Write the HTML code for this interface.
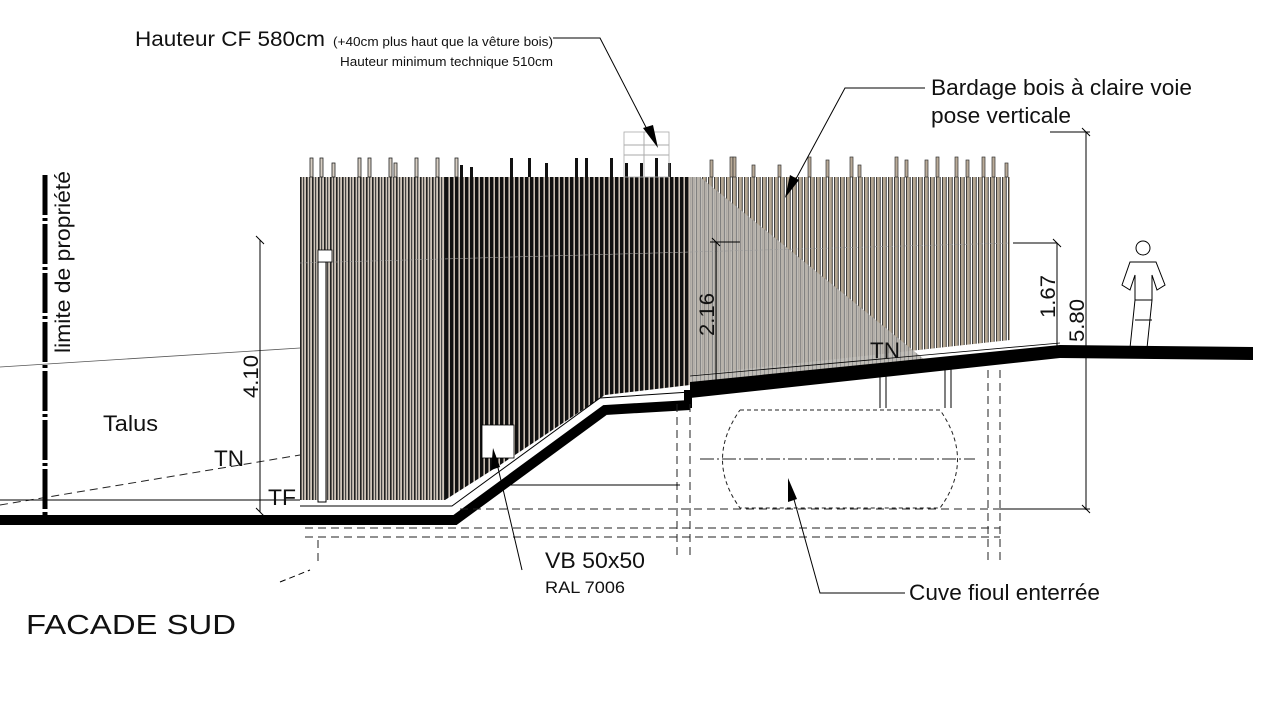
<!DOCTYPE html>
<html><head><meta charset="utf-8"><style>
html,body{margin:0;padding:0;background:#fff;width:1277px;height:701px;overflow:hidden}
svg{display:block}
text{font-family:"Liberation Sans",Arial,sans-serif;fill:#111}
</style></head><body>
<svg width="1277" height="701" viewBox="0 0 1277 701" xmlns="http://www.w3.org/2000/svg">
<defs>
<pattern id="pl" width="6" height="10" patternUnits="userSpaceOnUse">
<rect width="6" height="10" fill="#cfc5b9"/><rect x="0" width="1.6" height="10" fill="#222"/><rect x="3" width="1.2" height="10" fill="#444"/>
</pattern>
<pattern id="pd" width="5" height="10" patternUnits="userSpaceOnUse">
<rect width="5" height="10" fill="#c9beb2"/><rect x="0" width="3.4" height="10" fill="#111"/>
</pattern>
<pattern id="pr" width="6" height="10" patternUnits="userSpaceOnUse">
<rect width="6" height="10" fill="#fff"/><rect x="0" width="4.4" height="10" fill="#b5a792"/><rect x="0" width="0.9" height="10" fill="#333"/><rect x="3.8" width="0.9" height="10" fill="#333"/>
</pattern>
<pattern id="pg" width="4" height="4" patternUnits="userSpaceOnUse">
<rect width="4" height="4" fill="#b8b4ae"/><rect width="1" height="4" fill="#888"/>
</pattern>
</defs>

<!-- left cladding -->
<polygon points="300,177 445,177 445,500 300,500" fill="url(#pl)"/>
<polygon points="445,177 690,177 690,385 605,395 500,465 445,500" fill="url(#pd)"/>
<g fill="#d8cfc4" stroke="#222" stroke-width="0.8">
<rect x="310" y="158" width="3" height="19"/><rect x="320" y="158" width="3" height="19"/><rect x="332" y="163" width="3" height="14"/><rect x="358" y="158" width="3" height="19"/><rect x="368" y="158" width="3" height="19"/><rect x="389" y="158" width="3" height="19"/><rect x="394" y="163" width="3" height="14"/><rect x="415" y="158" width="3" height="19"/><rect x="436" y="158" width="3" height="19"/><rect x="455" y="158" width="3" height="19"/>
</g>
<g fill="#111">
<rect x="460" y="165" width="3" height="12"/><rect x="470" y="167" width="3" height="10"/><rect x="510" y="158" width="3" height="19"/><rect x="528" y="158" width="3" height="19"/><rect x="545" y="163" width="3" height="14"/><rect x="575" y="158" width="3" height="19"/><rect x="585" y="158" width="3" height="19"/><rect x="610" y="158" width="3" height="19"/><rect x="625" y="163" width="3" height="14"/><rect x="640" y="163" width="3" height="14"/><rect x="655" y="158" width="3" height="19"/><rect x="668" y="163" width="3" height="14"/>
</g>
<rect x="624" y="132" width="20" height="45" fill="none" stroke="#aaa" stroke-width="0.8"/>
<rect x="644" y="132" width="25" height="45" fill="none" stroke="#aaa" stroke-width="0.8"/>
<line x1="624" y1="145" x2="669" y2="145" stroke="#aaa"/><line x1="624" y1="155" x2="669" y2="155" stroke="#aaa"/>

<!-- right fence -->
<polygon points="690,177 1010,177 1010,340 690,375" fill="url(#pr)"/>
<g fill="#b9ab98" stroke="#333" stroke-width="0.7">
<rect x="710" y="160" width="3" height="17"/><rect x="730" y="157" width="3" height="20"/><rect x="733" y="157" width="3" height="20"/><rect x="752" y="165" width="3" height="12"/><rect x="778" y="165" width="3" height="12"/><rect x="808" y="157" width="3" height="20"/><rect x="826" y="160" width="3" height="17"/><rect x="850" y="157" width="3" height="20"/><rect x="858" y="165" width="3" height="12"/><rect x="895" y="157" width="3" height="20"/><rect x="905" y="160" width="3" height="17"/><rect x="925" y="160" width="3" height="17"/><rect x="936" y="157" width="3" height="20"/><rect x="955" y="157" width="3" height="20"/><rect x="966" y="160" width="3" height="17"/><rect x="982" y="157" width="3" height="20"/><rect x="992" y="157" width="3" height="20"/><rect x="1005" y="163" width="3" height="14"/>
</g>
<polygon points="690,177 700,177 925,360 690,385" fill="url(#pg)" opacity="0.9"/>
<line x1="300" y1="263" x2="1010" y2="243" stroke="#999" stroke-width="0.6" stroke-dasharray="3,2"/>

<!-- ground -->
<polyline points="0,520 455,520 605,410 690,405" fill="none" stroke="#000" stroke-width="10"/>
<polyline points="300,506 452,506 600,398 690,392" fill="none" stroke="#000" stroke-width="1"/>
<polygon points="690,382 1060,345 1253,347 1253,360 1060,358 690,398" fill="#000"/>
<line x1="690" y1="376" x2="1060" y2="343" stroke="#000" stroke-width="0.8"/>
<rect x="684" y="390" width="8" height="18" fill="#000"/>

<g stroke="#222" stroke-width="1" stroke-dasharray="8,5" fill="none">
<line x1="305" y1="528" x2="1000" y2="528"/><line x1="305" y1="537" x2="1000" y2="537"/>
<line x1="460" y1="509" x2="1000" y2="509"/>
<line x1="690" y1="404" x2="690" y2="560"/><line x1="677" y1="404" x2="677" y2="560"/>
<line x1="988" y1="370" x2="988" y2="560"/><line x1="1000" y1="370" x2="1000" y2="560"/>
<line x1="318" y1="540" x2="318" y2="562"/>
<path d="M740,410 L940,410 Q975,460 940,508 L740,508 Q705,460 740,410" stroke-dasharray="4,3"/>
<line x1="700" y1="459" x2="975" y2="459" stroke-dasharray="14,3,2,3"/>
<line x1="0" y1="505" x2="300" y2="455"/>
</g>
<line x1="880" y1="365" x2="880" y2="408" stroke="#000"/><line x1="886" y1="365" x2="886" y2="408" stroke="#000"/>
<line x1="945" y1="360" x2="945" y2="408" stroke="#000"/><line x1="951" y1="360" x2="951" y2="408" stroke="#000"/>
<line x1="500" y1="485" x2="680" y2="485" stroke="#000"/>
<line x1="0" y1="500" x2="300" y2="500" stroke="#000"/>
<line x1="0" y1="367" x2="300" y2="348" stroke="#555" stroke-width="0.8"/>
<line x1="280" y1="582" x2="310" y2="570" stroke="#000" stroke-dasharray="6,4"/>

<rect x="318" y="262" width="8" height="240" fill="#fff" stroke="#000" stroke-width="1"/>
<rect x="318" y="250" width="14" height="12" fill="#fff" stroke="#000" stroke-width="0.8"/>
<rect x="482" y="425" width="32" height="33" fill="#fff" stroke="#000" stroke-width="0.8"/>

<line x1="45" y1="175" x2="45" y2="520" stroke="#000" stroke-width="5" stroke-dasharray="40,3,3,3"/>

<g stroke="#000" stroke-width="1">
<line x1="260" y1="240" x2="260" y2="512"/><line x1="256" y1="236" x2="264" y2="244"/><line x1="256" y1="508" x2="264" y2="516"/>
<line x1="716" y1="242" x2="716" y2="384"/><line x1="712" y1="238" x2="720" y2="246"/><line x1="710" y1="242" x2="740" y2="242"/>
<line x1="1057" y1="243" x2="1057" y2="348"/><line x1="1013" y1="243" x2="1057" y2="243"/><line x1="1053" y1="239" x2="1061" y2="247"/>
<line x1="1086" y1="132" x2="1086" y2="510"/><line x1="1050" y1="132" x2="1090" y2="132"/><line x1="1082" y1="128" x2="1090" y2="136"/>
<line x1="1000" y1="509" x2="1090" y2="509"/><line x1="1082" y1="505" x2="1090" y2="513"/>
</g>
<text transform="translate(258,398) rotate(-90)" font-size="21" textLength="43" lengthAdjust="spacingAndGlyphs">4.10</text>
<text transform="translate(714,336) rotate(-90)" font-size="21" textLength="43" lengthAdjust="spacingAndGlyphs">2.16</text>
<text transform="translate(1055,318) rotate(-90)" font-size="21" textLength="43" lengthAdjust="spacingAndGlyphs">1.67</text>
<text transform="translate(1084,342) rotate(-90)" font-size="21" textLength="43" lengthAdjust="spacingAndGlyphs">5.80</text>
<text transform="translate(70,353) rotate(-90)" font-size="21" textLength="182" lengthAdjust="spacingAndGlyphs">limite de propriété</text>

<g stroke="#000" stroke-width="1" fill="none">
<polyline points="553,38 600,38 650,135"/>
<polyline points="925,88 845,88 790,190"/>
<polyline points="522,570 495,455"/>
<polyline points="905,593 820,593 790,485"/>
</g>
<polygon points="658,148 643,128 653,125" fill="#000"/>
<polygon points="785,198 790,175 799,180" fill="#000"/>
<polygon points="493,448 491,470 500,467" fill="#000"/>
<polygon points="788,478 788,502 797,499" fill="#000"/>

<g stroke="#000" stroke-width="1" fill="#fff">
<circle cx="1143" cy="248" r="7"/>
<path d="M1130,262 L1156,262 L1165,285 L1157,290 L1152,275 L1152,300 L1135,300 L1135,275 L1130,290 L1122,285 Z"/>
<path d="M1135,300 L1130,348 M1152,300 L1147,348 M1135,320 L1152,320" fill="none"/>
</g>

<text x="135" y="46" font-size="21" textLength="190" lengthAdjust="spacingAndGlyphs">Hauteur CF 580cm</text>
<text x="333" y="46" font-size="13" textLength="220" lengthAdjust="spacingAndGlyphs">(+40cm plus haut que la vêture bois)</text>
<text x="340" y="66" font-size="13" textLength="213" lengthAdjust="spacingAndGlyphs">Hauteur minimum technique 510cm</text>
<text x="931" y="95" font-size="22" textLength="261" lengthAdjust="spacingAndGlyphs">Bardage bois à claire voie</text>
<text x="931" y="123" font-size="22" textLength="140" lengthAdjust="spacingAndGlyphs">pose verticale</text>
<text x="103" y="431" font-size="22" textLength="55" lengthAdjust="spacingAndGlyphs">Talus</text>
<text x="214" y="466" font-size="22" textLength="30" lengthAdjust="spacingAndGlyphs">TN</text>
<text x="268" y="505" font-size="22" textLength="28" lengthAdjust="spacingAndGlyphs">TF</text>
<text x="870" y="358" font-size="22" textLength="30" lengthAdjust="spacingAndGlyphs">TN</text>
<text x="545" y="568" font-size="22" textLength="100" lengthAdjust="spacingAndGlyphs">VB 50x50</text>
<text x="545" y="593" font-size="17" textLength="80" lengthAdjust="spacingAndGlyphs">RAL 7006</text>
<text x="909" y="600" font-size="22" textLength="191" lengthAdjust="spacingAndGlyphs">Cuve fioul enterrée</text>
<text x="26" y="634" font-size="28" textLength="210" lengthAdjust="spacingAndGlyphs">FACADE  SUD</text>
</svg>
</body></html>
